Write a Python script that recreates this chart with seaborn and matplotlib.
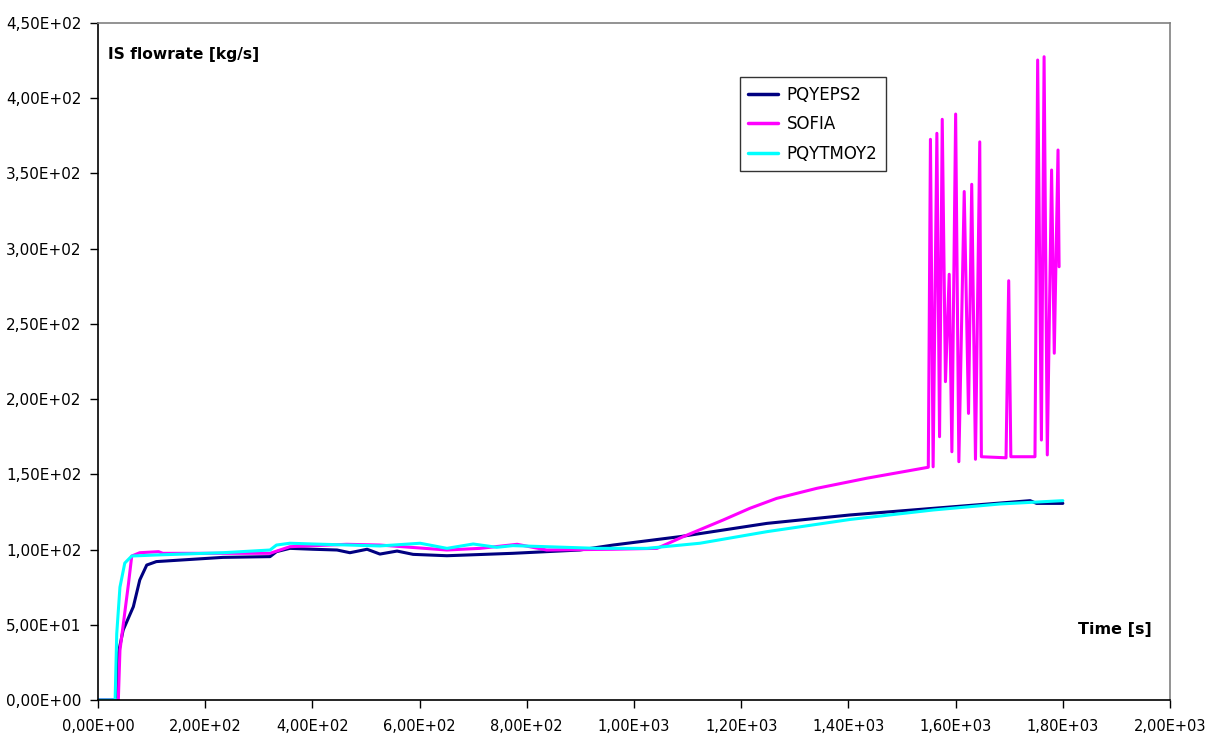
import numpy as np
import pandas as pd
import seaborn as sns
import matplotlib.pyplot as plt
from matplotlib.ticker import FuncFormatter, MultipleLocator

# valeurs (temps en s, débit en kg/s)
t_eps = [0, 35, 38, 47, 66, 78, 91, 109, 233, 321, 333, 358, 401, 446, 470, 502, 526,
         558, 588, 651, 774, 899, 961, 1086, 1248, 1403, 1558, 1739, 1751, 1800]
q_eps = [0, 0, 31, 46.5, 62, 79.8, 89.7, 92, 94.8, 95.3, 98.6, 100.8, 100.2, 99.7, 97.9,
         100.2, 97, 99, 96.8, 95.9, 97.5, 99.7, 103, 108.6, 117.4, 123, 127.4, 132.5,
         130.7, 130.7]

t_sofia = [0, 38, 41, 57, 63, 78, 113, 121, 321, 358, 464, 526, 651, 713, 782, 837, 961,
           1043, 1092, 1166, 1216, 1266, 1341, 1434, 1549,
           1553, 1558, 1565, 1570, 1575, 1581, 1588, 1593, 1600, 1606, 1616, 1624, 1630,
           1637, 1645, 1648, 1694, 1699, 1703, 1748, 1753, 1760, 1765, 1771, 1779, 1784,
           1791, 1793]
q_sofia = [0, 0, 33, 77.5, 95.7, 97.9, 98.6, 97.5, 97.5, 101.9, 103.5, 103, 99.7, 100.8,
           103.5, 99.7, 100.2, 100.8, 108.6, 119.6, 127.4, 134, 140.7, 147.4, 154.7,
           372.7, 155, 376.7, 175, 386, 211.6, 283, 165, 389.5, 158.4, 338, 190.5, 342.8,
           160, 371, 161.7, 161, 278.7, 161.7, 161.7, 425.4, 172.8, 427.6, 162.9, 352.3,
           230.5, 365.6, 288]

t_tmoy = [0, 32, 35, 41, 50, 63, 109, 233, 321, 333, 358, 401, 526, 601, 651, 700, 744,
          774, 837, 931, 1024, 1123, 1248, 1403, 1558, 1683, 1800]
q_tmoy = [0, 0, 44, 75, 91, 95.7, 96.4, 97.9, 99.7, 103, 104.2, 103.7, 102.4, 104.2,
          100.8, 103.7, 101.5, 102.6, 101.9, 100.8, 100.8, 104.2, 111.9, 120, 126.3,
          130.3, 132.5]

series = ["PQYEPS2", "SOFIA", "PQYTMOY2"]
colors = ["#000080", "#FF00FF", "#00FFFF"]

df = pd.concat([
    pd.DataFrame({"t": t_eps, "q": q_eps, "serie": series[0]}),
    pd.DataFrame({"t": t_sofia, "q": q_sofia, "serie": series[1]}),
    pd.DataFrame({"t": t_tmoy, "q": q_tmoy, "serie": series[2]}),
], ignore_index=True)

sns.set_style("white")
plt.rcParams["font.family"] = ["DejaVu Sans"]
plt.rcParams["text.color"] = "black"

fig = plt.figure(figsize=(12.05, 7.38), dpi=100)
ax = fig.add_axes([0.0813, 0.0515, 0.8897, 0.9173])

sns.lineplot(data=df, x="t", y="q", hue="serie", hue_order=series,
             palette=colors, estimator=None, sort=False, linewidth=2.2, ax=ax)

ax.set_xlim(0, 2000)
ax.set_ylim(0, 450)
ax.xaxis.set_major_locator(MultipleLocator(200))
ax.yaxis.set_major_locator(MultipleLocator(50))
fmt = FuncFormatter(lambda v, p: f"{v:.2E}".replace(".", ","))
ax.xaxis.set_major_formatter(fmt)
ax.yaxis.set_major_formatter(fmt)
ax.tick_params(axis="both", direction="out", length=6, width=1, colors="black",
               bottom=True, left=True)
ax.tick_params(axis="x", pad=8, labelsize=10.5)
ax.tick_params(axis="y", pad=6, labelsize=11)
ax.set_xlabel("")
ax.set_ylabel("")

for s in ["left", "bottom"]:
    ax.spines[s].set_color("black")
    ax.spines[s].set_linewidth(1.2)
for s in ["top", "right"]:
    ax.spines[s].set_color("#808080")
    ax.spines[s].set_linewidth(1.2)

ax.text(0.009, 0.965, "IS flowrate [kg/s]", transform=ax.transAxes,
        fontsize=11.2, fontweight="bold", va="top", ha="left", color="black")
ax.text(0.914, 0.104, "Time [s]", transform=ax.transAxes,
        fontsize=11.5, fontweight="bold", va="center", ha="left", color="black")

leg = ax.legend(loc="upper left", bbox_to_anchor=(0.599, 0.92), frameon=True,
                fancybox=False, fontsize=12, handlelength=1.8, borderaxespad=0,
                borderpad=0.5, labelspacing=0.7, handletextpad=0.5)
leg.get_frame().set_edgecolor("black")
leg.get_frame().set_linewidth(1.0)
for line in leg.get_lines():
    line.set_linewidth(2.5)

fig.savefig("out.png", dpi=100)
